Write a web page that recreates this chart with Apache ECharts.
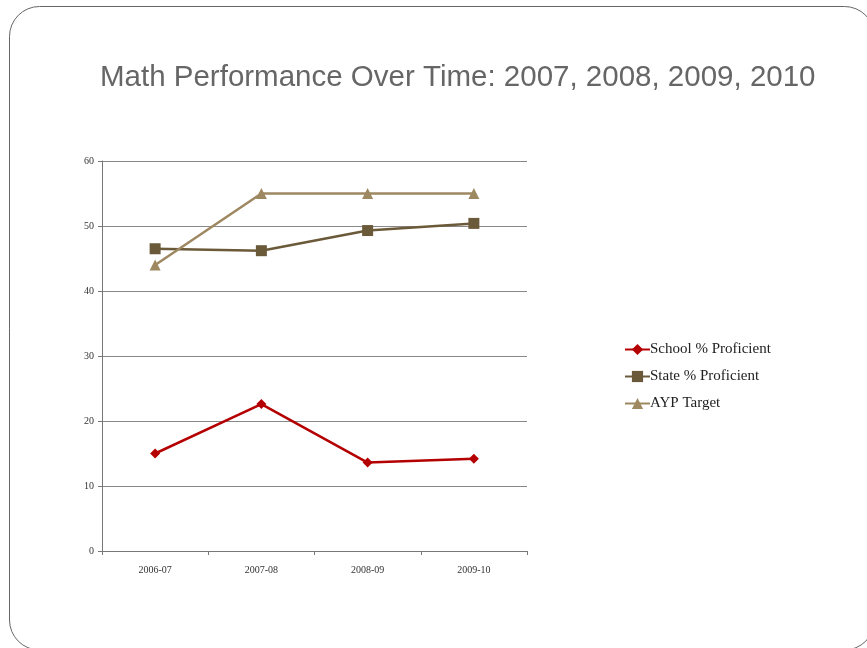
<!DOCTYPE html>
<html>
<head>
<meta charset="utf-8">
<script src="https://cdn.jsdelivr.net/npm/echarts@6/dist/echarts.min.js"></script>
<style>
  html, body { margin: 0; padding: 0; background: #fff; }
  #chart { width: 867px; height: 648px; }
</style>
</head>
<body>
<div id="chart"></div>
<script>
const years = ["2006-07", "2007-08", "2008-09", "2009-10"];
const school = [15, 22.6, 13.6, 14.2];
const state = [46.5, 46.2, 49.3, 50.4];
const ayp = [44, 55, 55, 55];
const yTicks = { min: 0, max: 60, interval: 10 };

const serif = "Liberation Serif";

const chart = echarts.init(document.getElementById("chart"));

const series = [
  { name: "School % Proficient", data: school, color: "#b40000", symbol: "diamond", symbolSize: 10 },
  { name: "State % Proficient", data: state, color: "#6b5a3a", symbol: "rect", symbolSize: 11 },
  { name: "AYP Target", data: ayp, color: "#9e8861", symbol: "triangle", symbolSize: 11 },
].map((s) => ({
  name: s.name,
  type: "line",
  data: s.data,
  symbol: s.symbol,
  symbolSize: s.symbolSize,
  itemStyle: { color: s.color },
  lineStyle: { color: s.color, width: 2.5 },
  animation: false,
}));

chart.setOption({
  backgroundColor: "#fff",
  graphic: [
    {
      type: "rect",
      shape: { x: 9.5, y: 6.5, width: 865, height: 643.5, r: 30 },
      style: { fill: "none", stroke: "#666", lineWidth: 1 },
      silent: true,
    },
  ],
  title: {
    text: "Math Performance Over Time: 2007, 2008, 2009, 2010",
    left: 95,
    top: 58,
    textStyle: {
      fontFamily: "Liberation Sans",
      fontWeight: "normal",
      fontSize: 29.5,
      color: "#666",
    },
  },
  legend: {
    orient: "vertical",
    left: 624,
    top: 342,
    padding: 0,
    itemWidth: 25,
    itemHeight: 14,
    itemGap: 12,
    textStyle: { fontFamily: serif, fontSize: 15, color: "#222", padding: [0, 0, 0, -5] },
    data: series.map((s) => s.name),
  },
  grid: { left: 102, right: 340, top: 161, bottom: 97, containLabel: false },
  xAxis: {
    type: "category",
    data: years,
    boundaryGap: true,
    axisLine: { lineStyle: { color: "#777" } },
    axisTick: { show: true, length: 4, lineStyle: { color: "#777" } },
    axisLabel: { fontFamily: serif, fontSize: 10, color: "#333", margin: 14 },
  },
  yAxis: {
    type: "value",
    ...yTicks,
    axisLine: { show: true, lineStyle: { color: "#777" } },
    axisTick: { show: true, length: 4, lineStyle: { color: "#777" } },
    axisLabel: { fontFamily: serif, fontSize: 10, color: "#333", margin: 8 },
    splitLine: { lineStyle: { color: "#888", width: 1 } },
  },
  series: series,
});
</script>
</body>
</html>
